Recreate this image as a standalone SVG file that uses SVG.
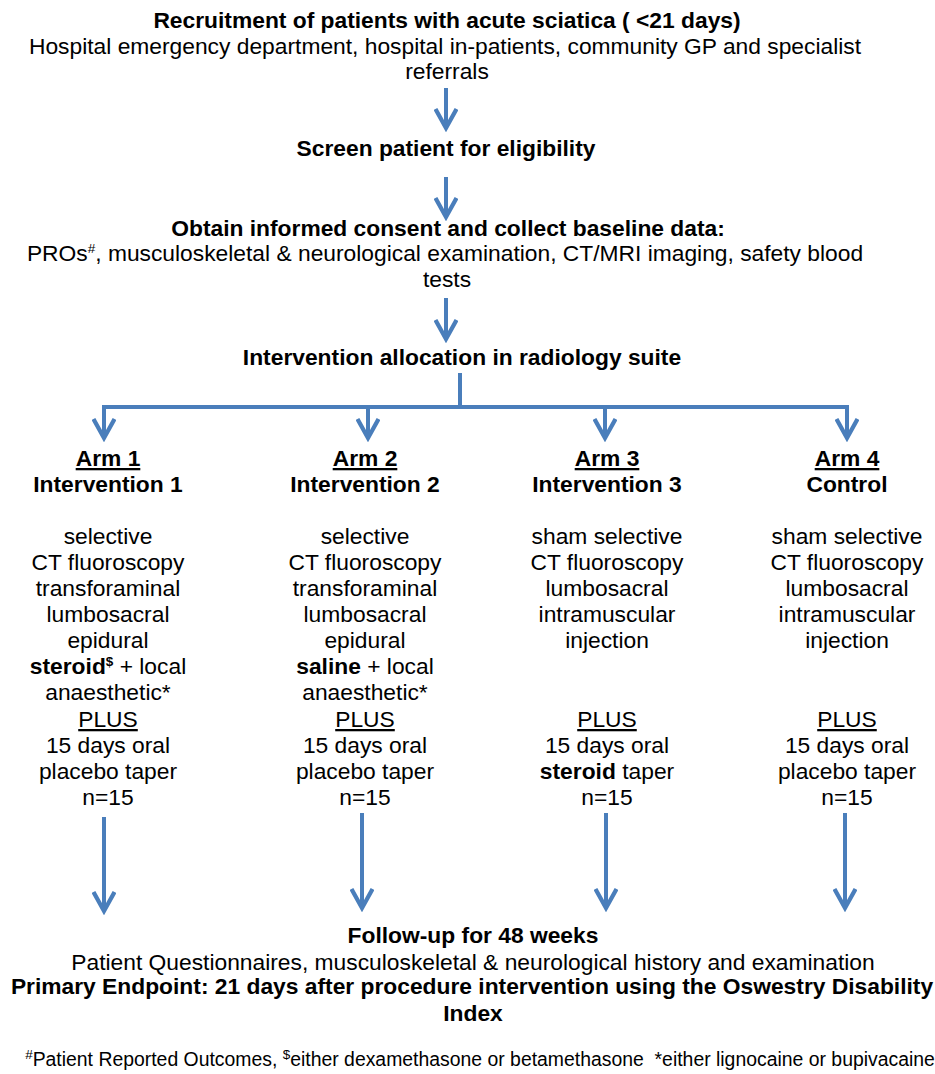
<svg xmlns="http://www.w3.org/2000/svg" width="935" height="1074" viewBox="0 0 935 1074">
<style>
text{font-family:"Liberation Sans",Arial,sans-serif;font-size:22.8px;fill:#000;text-anchor:middle}
.b{font-weight:bold}
.u{text-decoration:underline}
.sup{font-size:13.5px}
.fn{font-size:19.4px}
.c{stroke:#4A7EBB;stroke-width:4;fill:none}
</style>
<defs>
<marker id="ah" viewBox="-24 -12 28 24" refX="0" refY="0" markerWidth="28" markerHeight="24" markerUnits="userSpaceOnUse" orient="auto">
<path d="M-19,-10.5 L0,0 L-19,10.5" fill="none" stroke="#4A7EBB" stroke-width="4.2"/>
</marker>
</defs>
<rect width="935" height="1074" fill="#fff"/>
<g id="recruit">
<text x="447" y="28" class="b">Recruitment of patients with acute sciatica ( &lt;21 days)</text>
<text x="445" y="54">Hospital emergency department, hospital in-patients, community GP and specialist</text>
<text x="447" y="79">referrals</text>
</g>
<g id="screen">
<text x="446" y="156" class="b">Screen patient for eligibility</text>
</g>
<g id="consent">
<text x="448" y="236" class="b">Obtain informed consent and collect baseline data:</text>
<text x="445" y="261">PROs<tspan class="sup" dy="-8">#</tspan><tspan dy="8">, musculoskeletal &amp; neurological examination, CT/MRI imaging, safety blood</tspan></text>
<text x="447" y="287">tests</text>
</g>
<g id="allocation">
<text x="462" y="365" class="b">Intervention allocation in radiology suite</text>
</g>
<g id="arm1">
<text x="108" y="466" class="b u">Arm 1</text>
<text x="108" y="492" class="b">Intervention 1</text>
<text x="108" y="544">selective</text>
<text x="108" y="570">CT fluoroscopy</text>
<text x="108" y="596">transforaminal</text>
<text x="108" y="622">lumbosacral</text>
<text x="108" y="648">epidural</text>
<text x="108" y="674"><tspan class="b">steroid</tspan><tspan class="b sup" dy="-8">$</tspan><tspan dy="8"> + local</tspan></text>
<text x="108" y="700">anaesthetic*</text>
<text x="108" y="727" class="u">PLUS</text>
<text x="108" y="753">15 days oral</text>
<text x="108" y="779">placebo taper</text>
<text x="108" y="805">n=15</text>
</g>
<g id="arm2">
<text x="365" y="466" class="b u">Arm 2</text>
<text x="365" y="492" class="b">Intervention 2</text>
<text x="365" y="544">selective</text>
<text x="365" y="570">CT fluoroscopy</text>
<text x="365" y="596">transforaminal</text>
<text x="365" y="622">lumbosacral</text>
<text x="365" y="648">epidural</text>
<text x="365" y="674"><tspan class="b">saline</tspan> + local</text>
<text x="365" y="700">anaesthetic*</text>
<text x="365" y="727" class="u">PLUS</text>
<text x="365" y="753">15 days oral</text>
<text x="365" y="779">placebo taper</text>
<text x="365" y="805">n=15</text>
</g>
<g id="arm3">
<text x="607" y="466" class="b u">Arm 3</text>
<text x="607" y="492" class="b">Intervention 3</text>
<text x="607" y="544">sham selective</text>
<text x="607" y="570">CT fluoroscopy</text>
<text x="607" y="596">lumbosacral</text>
<text x="607" y="622">intramuscular</text>
<text x="607" y="648">injection</text>
<text x="607" y="727" class="u">PLUS</text>
<text x="607" y="753">15 days oral</text>
<text x="607" y="779"><tspan class="b">steroid</tspan> taper</text>
<text x="607" y="805">n=15</text>
</g>
<g id="arm4">
<text x="847" y="466" class="b u">Arm 4</text>
<text x="847" y="492" class="b">Control</text>
<text x="847" y="544">sham selective</text>
<text x="847" y="570">CT fluoroscopy</text>
<text x="847" y="596">lumbosacral</text>
<text x="847" y="622">intramuscular</text>
<text x="847" y="648">injection</text>
<text x="847" y="727" class="u">PLUS</text>
<text x="847" y="753">15 days oral</text>
<text x="847" y="779">placebo taper</text>
<text x="847" y="805">n=15</text>
</g>
<g id="followup">
<text x="473" y="943" class="b">Follow-up for 48 weeks</text>
<text x="473" y="970">Patient Questionnaires, musculoskeletal &amp; neurological history and examination</text>
<text x="472" y="994" class="b">Primary Endpoint: 21 days after procedure intervention using the Oswestry Disability</text>
<text x="473" y="1021" class="b">Index</text>
</g>
<g id="footnote">
<text x="480" y="1066" class="fn"><tspan class="sup" dy="-7">#</tspan><tspan dy="7">Patient Reported Outcomes, </tspan><tspan class="sup" dy="-7">$</tspan><tspan dy="7">either dexamethasone or betamethasone&#160; *either lignocaine or bupivacaine</tspan></text>
</g>
<g id="connectors">
<line class="c" x1="446" y1="88" x2="446" y2="128" marker-end="url(#ah)"/>
<line class="c" x1="446" y1="177" x2="446" y2="217" marker-end="url(#ah)"/>
<line class="c" x1="446" y1="298" x2="446" y2="339" marker-end="url(#ah)"/>
<path class="c" d="M460,373 V407 M102,407 H849"/>
<line class="c" x1="104" y1="407" x2="104" y2="438" marker-end="url(#ah)"/>
<line class="c" x1="368" y1="407" x2="368" y2="438" marker-end="url(#ah)"/>
<line class="c" x1="605" y1="407" x2="605" y2="438" marker-end="url(#ah)"/>
<line class="c" x1="847" y1="407" x2="847" y2="438" marker-end="url(#ah)"/>
<line class="c" x1="104" y1="817" x2="104" y2="911" marker-end="url(#ah)"/>
<line class="c" x1="362" y1="813" x2="362" y2="908" marker-end="url(#ah)"/>
<line class="c" x1="606" y1="813" x2="606" y2="908" marker-end="url(#ah)"/>
<line class="c" x1="845" y1="813" x2="845" y2="908" marker-end="url(#ah)"/>
</g>
</svg>
